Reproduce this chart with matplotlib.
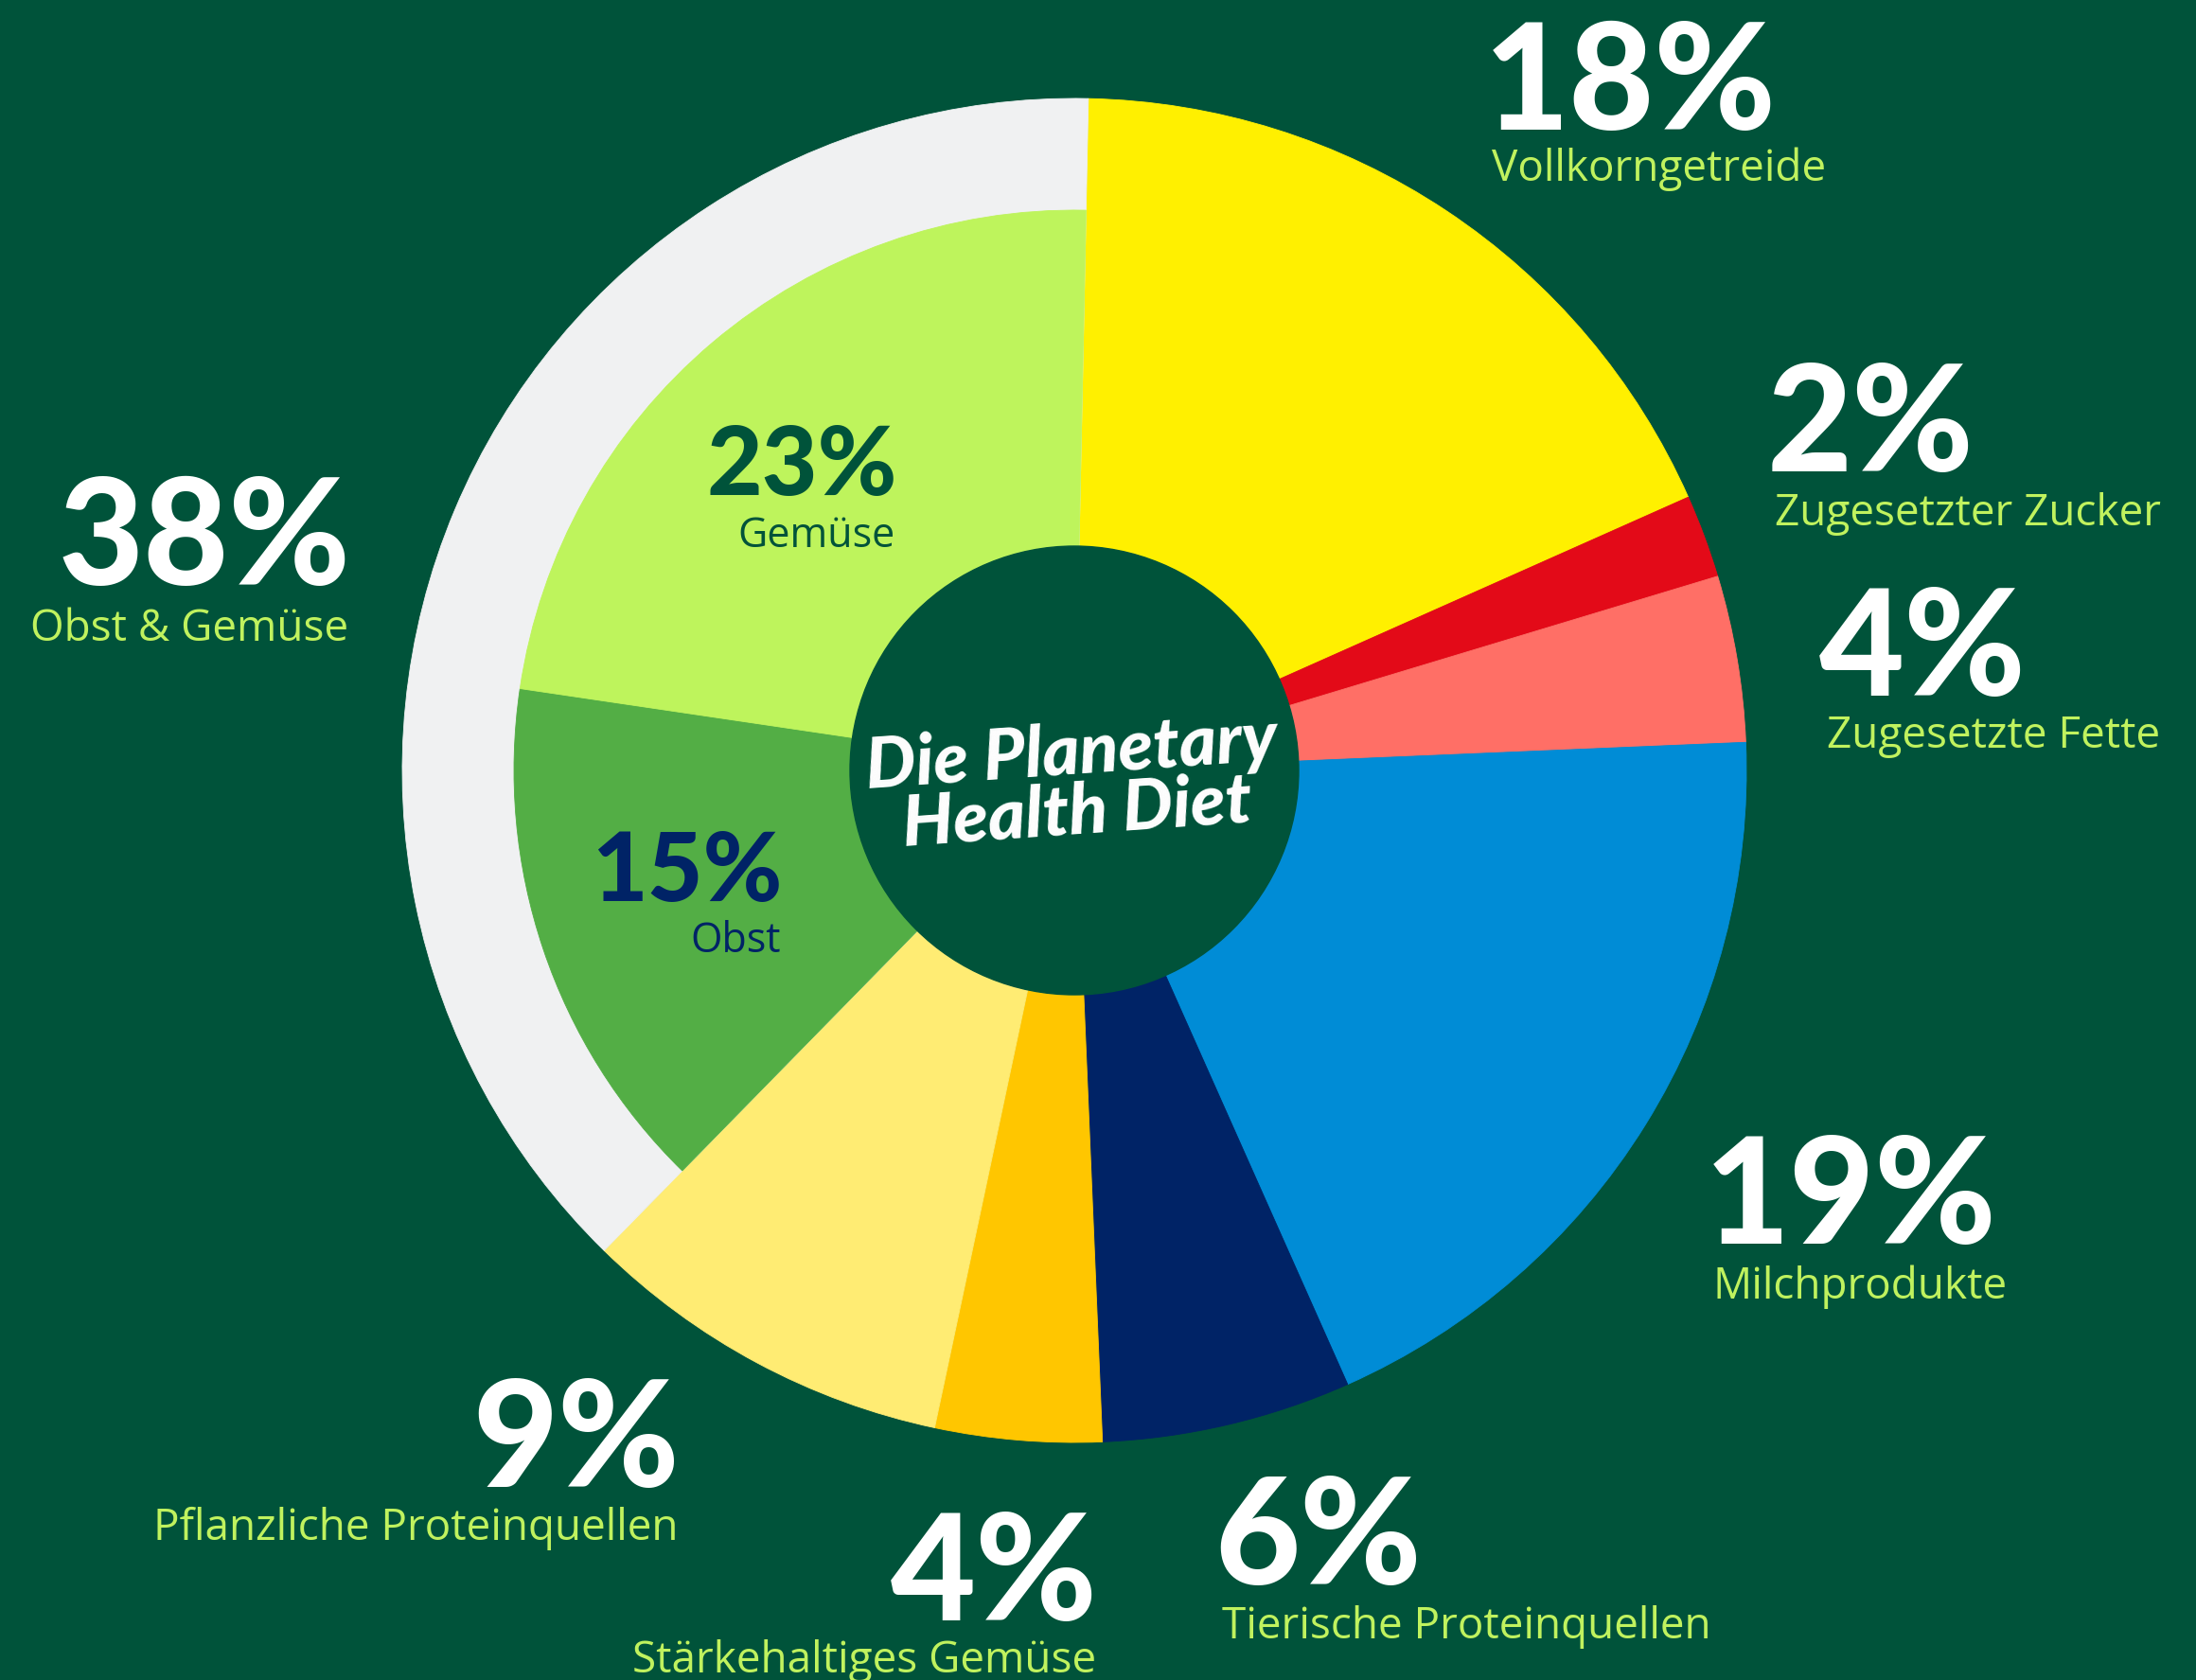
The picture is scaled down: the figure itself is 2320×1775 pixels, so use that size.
import matplotlib
matplotlib.use("Agg")
import matplotlib.pyplot as plt
from matplotlib.patches import Circle

# Data: shares of the Planetary Health Diet (clockwise from top)
groups = ["Vollkorngetreide", "Zugesetzter Zucker", "Zugesetzte Fette", "Milchprodukte",
          "Tierische Proteinquellen", "Stärkehaltiges Gemüse",
          "Pflanzliche Proteinquellen", "Obst & Gemüse"]
shares = [18, 2, 4, 19, 6, 4, 9, 38]
sub_groups = ["Obst", "Gemüse"]
sub_shares = [15, 23]

# Colours
BG = "#00533A"
LIME_TXT = "#C0F25E"
colors = ["#FFF000", "#E30A18", "#FF6F66", "#008CD6",
          "#002366", "#FFC600", "#FFEC73", "#F0F1F2"]
sub_colors = ["#53AE45", "#BEF45C"]
sub_text_colors = ["#002366", "#00533A"]

W, H = 2320, 1775
FONT = "Lato"
SUB_FONT = "Open Sans"

fig = plt.figure(figsize=(W / 100, H / 100), dpi=100, facecolor=BG)
ax = fig.add_axes([0, 0, 1, 1])
ax.set_facecolor(BG)

cx, cy = 1135, H - 814
R_OUT, R_IN, R_HOLE = 710, 592, 237
start = 90 - 1.2

wedges, _ = ax.pie(shares, colors=colors, radius=R_OUT, center=(cx, cy),
                   startangle=start, counterclock=False)
for w in wedges:
    w.set_edgecolor(w.get_facecolor())
    w.set_linewidth(0.6)

# inner ring for Obst / Gemüse, the rest of the circle left empty
rest = sum(shares[:-1])
inner, _ = ax.pie([rest] + sub_shares, colors=["none"] + sub_colors, radius=R_IN,
                  center=(cx, cy), startangle=start, counterclock=False)
for w in inner[1:]:
    w.set_edgecolor(w.get_facecolor())
    w.set_linewidth(0.6)
inner[0].set_linewidth(0)

ax.add_patch(Circle((cx, cy), R_HOLE, color=BG, zorder=5))

ax.set_xlim(0, W)
ax.set_ylim(0, H)
ax.axis("off")


def label(x, y, value, name, ha, big=112, small=33, gap=55, col="white", subcol=LIME_TXT):
    # x, y: anchor of the percentage baseline, in pixels from the top-left
    ax.text(x, H - y, f"{value}%", fontsize=big, fontfamily=FONT, fontweight="black",
            color=col, ha=ha, va="baseline", zorder=6)
    ax.text(x + (8 if ha == "left" else -2), H - y - gap, name, fontsize=small,
            fontfamily=SUB_FONT, color=subcol, ha=ha, va="baseline", zorder=6)


# outer labels
label(1568, 137, shares[0], groups[0], "left", gap=54)
label(1867, 498, shares[1], groups[1], "left", gap=57)
label(1922, 735, shares[2], groups[2], "left", gap=55)
label(1801, 1314, shares[3], groups[3], "left", gap=58)
label(1283, 1674, shares[4], groups[4], "left", gap=57)
label(1160, 1712, shares[5], groups[5], "right", gap=55)
label(718, 1571, shares[6], groups[6], "right", gap=56)
label(370, 618, shares[7], groups[7], "right", gap=59)

# inner labels
label(827, 952, sub_shares[0], sub_groups[0], "right", big=73, small=31, gap=54,
      col=sub_text_colors[0], subcol=sub_text_colors[0])
label(948, 523, sub_shares[1], sub_groups[1], "right", big=73, small=31, gap=55,
      col=sub_text_colors[1], subcol=sub_text_colors[1])

# title in the hole
for line, (tx, ty) in zip(["Die Planetary", "Health Diet"], [(1133, 818), (1139, 881)]):
    ax.text(tx, H - ty, line, fontsize=54, fontfamily=FONT, fontweight="black",
            fontstyle="italic", color="white", ha="center", va="baseline",
            rotation=4, rotation_mode="anchor", zorder=7)

fig.savefig("out.png", dpi=100, facecolor=BG)
